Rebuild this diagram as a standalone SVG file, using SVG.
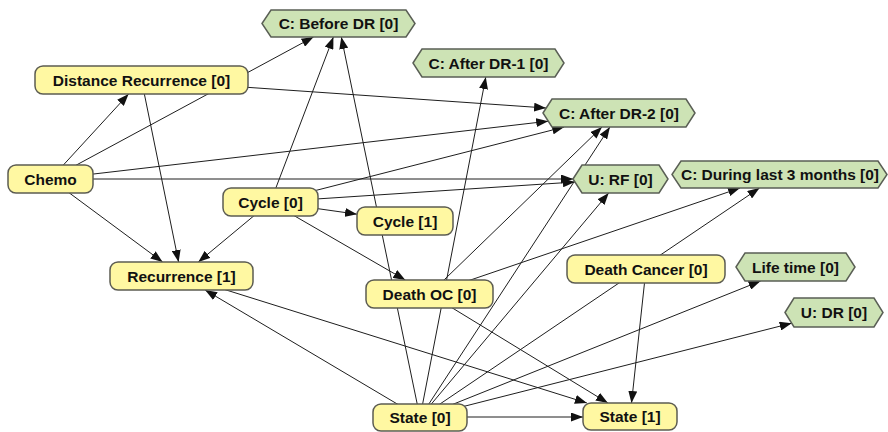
<svg xmlns="http://www.w3.org/2000/svg" width="888" height="432" viewBox="0 0 888 432">
  <style>
    .edge { stroke: #1e1e1e; stroke-width: 1; fill: none; marker-end: url(#arrow); }
    .chance { fill: #fff8a2; stroke: #5c5c52; stroke-width: 1.5; }
    .value { fill: #cde3b5; stroke: #5a5f55; stroke-width: 1.5; }
    .label { font-family: "Liberation Sans", Arial, sans-serif; font-weight: bold; font-size: 15.5px; fill: #111; text-anchor: middle; }
  </style>
  <defs>
    <marker id="arrow" markerUnits="userSpaceOnUse" markerWidth="12" markerHeight="9" refX="12" refY="4.5" orient="auto">
      <path d="M0,0 L12,4.5 L0,9 z" fill="#111"/>
    </marker>
  </defs>
  <rect width="888" height="432" fill="#fff"/>

  <!-- links between nodes, drawn underneath the nodes -->
  <g id="connectors">
    <line class="edge" x1="50.5" y1="179" x2="128.6" y2="94"/>
    <line class="edge" x1="50.5" y1="179" x2="313.5" y2="37"/>
    <line class="edge" x1="50.5" y1="179" x2="548.2" y2="121.2"/>
    <line class="edge" x1="50.5" y1="179" x2="573" y2="179"/>
    <line class="edge" x1="50.5" y1="179" x2="162.6" y2="262"/>
    <line class="edge" x1="141.5" y1="80" x2="546.1" y2="108"/>
    <line class="edge" x1="141.5" y1="80" x2="178.6" y2="262"/>
    <line class="edge" x1="270.5" y1="202" x2="333.4" y2="37"/>
    <line class="edge" x1="270.5" y1="202" x2="198.3" y2="262"/>
    <line class="edge" x1="270.5" y1="202" x2="357" y2="214.2"/>
    <line class="edge" x1="270.5" y1="202" x2="405.3" y2="280"/>
    <line class="edge" x1="270.5" y1="202" x2="564.2" y2="127"/>
    <line class="edge" x1="270.5" y1="202" x2="574.9" y2="182"/>
    <line class="edge" x1="429.5" y1="294" x2="740" y2="188"/>
    <line class="edge" x1="429.5" y1="294" x2="607.9" y2="403"/>
    <line class="edge" x1="429.5" y1="294" x2="602" y2="127"/>
    <line class="edge" x1="646" y1="269" x2="631.5" y2="403"/>
    <line class="edge" x1="420" y1="417" x2="583" y2="417"/>
    <line class="edge" x1="420" y1="417.5" x2="205.1" y2="290"/>
    <line class="edge" x1="420" y1="417.5" x2="341.3" y2="37"/>
    <line class="edge" x1="420" y1="417.5" x2="485.8" y2="77"/>
    <line class="edge" x1="420" y1="417.5" x2="609.9" y2="127"/>
    <line class="edge" x1="420" y1="417.5" x2="608.7" y2="193"/>
    <line class="edge" x1="420" y1="417.5" x2="759.5" y2="188"/>
    <line class="edge" x1="420" y1="417.5" x2="760.6" y2="281"/>
    <line class="edge" x1="420" y1="417.5" x2="791.7" y2="323.2"/>
    <line class="edge" x1="181.5" y1="276" x2="586.9" y2="403"/>
  </g>

  <!-- chance nodes -->
  <g id="distance-recurrence-0">
    <rect class="chance" x="35" y="66" width="213" height="28" rx="8"/>
    <text class="label" x="141.5" y="85.5">Distance Recurrence [0]</text>
  </g>
  <g id="chemo">
    <rect class="chance" x="8" y="165" width="85" height="28" rx="8"/>
    <text class="label" x="50.5" y="184.5">Chemo</text>
  </g>
  <g id="cycle-0">
    <rect class="chance" x="223" y="188" width="95" height="28" rx="8"/>
    <text class="label" x="270.5" y="207.5">Cycle [0]</text>
  </g>
  <g id="cycle-1">
    <rect class="chance" x="357" y="207" width="96" height="28" rx="8"/>
    <text class="label" x="405" y="226.5">Cycle [1]</text>
  </g>
  <g id="recurrence-1">
    <rect class="chance" x="110" y="262" width="143" height="28" rx="8"/>
    <text class="label" x="181.5" y="281.5">Recurrence [1]</text>
  </g>
  <g id="death-oc-0">
    <rect class="chance" x="366" y="280" width="127" height="28" rx="8"/>
    <text class="label" x="429.5" y="299.5">Death OC [0]</text>
  </g>
  <g id="death-cancer-0">
    <rect class="chance" x="567" y="255" width="158" height="28" rx="8"/>
    <text class="label" x="646" y="274.5">Death Cancer [0]</text>
  </g>
  <g id="state-0">
    <rect class="chance" x="373" y="404" width="94" height="27" rx="8"/>
    <text class="label" x="420" y="423">State [0]</text>
  </g>
  <g id="state-1">
    <rect class="chance" x="583" y="403" width="94" height="27" rx="8"/>
    <text class="label" x="630" y="422">State [1]</text>
  </g>

  <!-- cost and utility nodes -->
  <g id="c-before-dr-0">
    <polygon class="value" points="262,23.5 271,10 406,10 415,23.5 406,37 271,37"/>
    <text class="label" x="338.5" y="29">C: Before DR [0]</text>
  </g>
  <g id="c-after-dr-1-0">
    <polygon class="value" points="413,63 422,49 555,49 564,63 555,77 422,77"/>
    <text class="label" x="488.5" y="68.5">C: After DR-1 [0]</text>
  </g>
  <g id="c-after-dr-2-0">
    <polygon class="value" points="543,113 552,99 686,99 695,113 686,127 552,127"/>
    <text class="label" x="619" y="118.5">C: After DR-2 [0]</text>
  </g>
  <g id="u-rf-0">
    <polygon class="value" points="573,179 582,165 659,165 668,179 659,193 582,193"/>
    <text class="label" x="620.5" y="184.5">U: RF [0]</text>
  </g>
  <g id="c-during-last-3-months-0">
    <polygon class="value" points="672,174.5 681,161 878,161 887,174.5 878,188 681,188"/>
    <text class="label" x="780" y="180">C: During last 3 months [0]</text>
  </g>
  <g id="life-time-0">
    <polygon class="value" points="736,267 745,253 846,253 855,267 846,281 745,281"/>
    <text class="label" x="795.5" y="272.5">Life time [0]</text>
  </g>
  <g id="u-dr-0">
    <polygon class="value" points="785,312.5 794,298 874,298 883,312.5 874,327 794,327"/>
    <text class="label" x="834" y="318">U: DR [0]</text>
  </g>
</svg>
